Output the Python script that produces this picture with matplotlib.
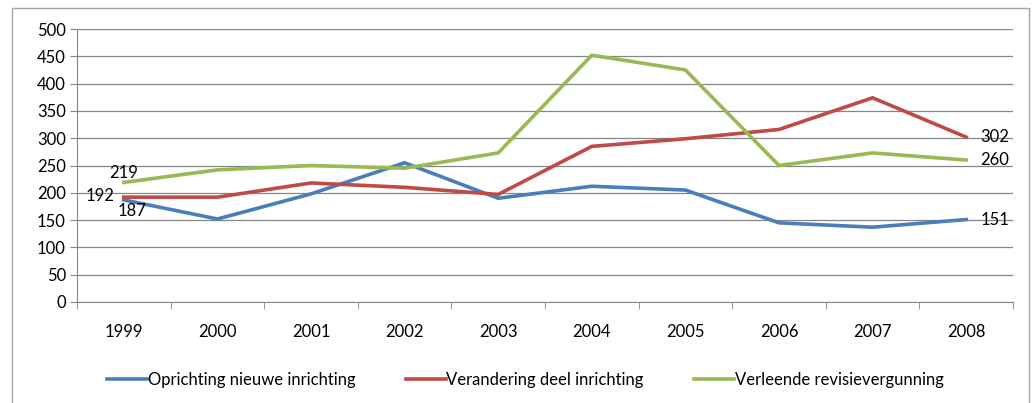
import matplotlib
matplotlib.use("Agg")
import matplotlib.pyplot as plt
from matplotlib.patches import Rectangle

# data
years = ['1999', '2000', '2001', '2002', '2003', '2004', '2005', '2006', '2007', '2008']
oprichting = [187, 152, 198, 255, 190, 212, 205, 145, 137, 151]
verandering = [192, 192, 218, 210, 197, 285, 299, 316, 374, 302]
revisie = [219, 242, 250, 245, 273, 452, 425, 250, 273, 260]

names = ['Oprichting nieuwe inrichting', 'Verandering deel inrichting', 'Verleende revisievergunning']
colors = ['#4A7EBB', '#BE4B48', '#98B954']

plt.rcParams['font.family'] = ['Lato', 'DejaVu Sans']
fs = 12

fig = plt.figure(figsize=(10.34, 4.03), dpi=100)
ax = fig.add_axes([77 / 1034, 1 - 302 / 403, (1013 - 77) / 1034, (302 - 29) / 403])

# outer chart border
fig.patches.append(Rectangle((12 / 1034, -0.05), (1029 - 12) / 1034, 1.05 - 8 / 403,
                             transform=fig.transFigure, fill=False, edgecolor='#a6a6a6', lw=1.0))

x = list(range(len(years)))
for vals, name, c in zip([oprichting, verandering, revisie], names, colors):
    ax.plot(x, vals, color=c, lw=2.6, label=name, solid_joinstyle='miter')

# data labels at the ends
ax.text(x[0], revisie[0] + 3, str(revisie[0]), ha='center', va='bottom', fontsize=fs)
ax.text(x[0] - 0.1, verandering[0] + 3, str(verandering[0]), ha='right', va='center', fontsize=fs)
ax.text(x[0] - 0.07, oprichting[0] - 5, str(oprichting[0]), ha='left', va='top', fontsize=fs)
ax.text(x[-1] + 0.15, verandering[-1], str(verandering[-1]), ha='left', va='center', fontsize=fs)
ax.text(x[-1] + 0.15, revisie[-1], str(revisie[-1]), ha='left', va='center', fontsize=fs)
ax.text(x[-1] + 0.15, oprichting[-1], str(oprichting[-1]), ha='left', va='center', fontsize=fs)

ax.set_ylim(0, 500)
ax.set_yticks(range(0, 501, 50))
ax.set_xlim(-0.5, len(years) - 0.5)
ax.set_xticks(x)
ax.set_xticklabels(years)
ax.set_xticks([i - 0.5 for i in range(len(years) + 1)], minor=True)
ax.tick_params(axis='x', which='major', length=0, pad=16, labelsize=fs)
ax.tick_params(axis='x', which='minor', length=5, color='#868686')
ax.tick_params(axis='y', length=5, color='#868686', labelsize=fs, pad=3)

ax.grid(axis='y', color='#868686', lw=0.9)
ax.set_axisbelow(True)
for s in ['top', 'right']:
    ax.spines[s].set_visible(False)
for s in ['left', 'bottom']:
    ax.spines[s].set_color('#868686')

fig.legend(loc='center', bbox_to_anchor=(0.508, 1 - 380 / 403), ncol=3, frameon=False,
           fontsize=fs, handlelength=2.4, handletextpad=0.05, columnspacing=3.0)

fig.savefig('out.png', dpi=100)
